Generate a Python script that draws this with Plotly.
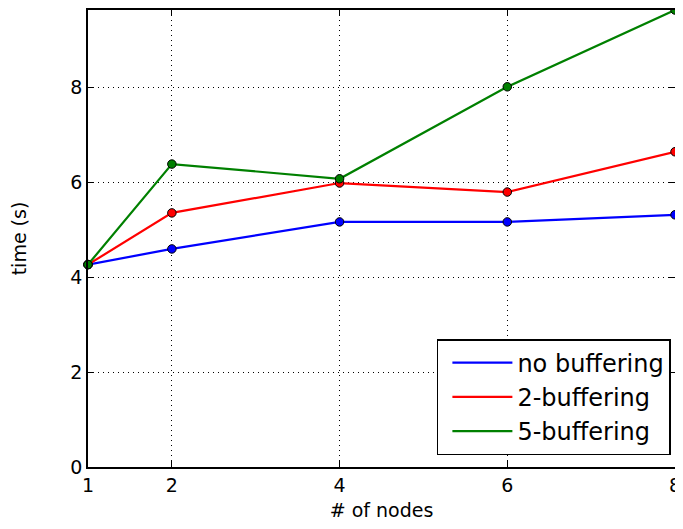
import plotly.graph_objects as go

nodes = [1, 2, 4, 6, 8]
no_buf = [4.27, 4.60, 5.17, 5.17, 5.32]
buf2 = [4.27, 5.36, 5.99, 5.80, 6.65]
buf5 = [4.27, 6.39, 6.08, 8.02, 9.64]
names = ["no buffering", "2-buffering", "5-buffering"]
colors = ["#0000ff", "#ff0000", "#008000"]
series = [no_buf, buf2, buf5]
xticks = [1, 2, 4, 6, 8]
yticks = [0, 2, 4, 6, 8]

fig = go.Figure()
for vals, c in zip(series, colors):
    fig.add_trace(go.Scatter(x=nodes, y=vals, mode="lines+markers",
                             line=dict(color=c, width=2.2),
                             marker=dict(size=8.5, color=c, line=dict(color="black", width=1)),
                             showlegend=False, cliponaxis=False))
for n, c in zip(names, colors):
    fig.add_trace(go.Scatter(x=[None], y=[None], mode="lines", name=n,
                             line=dict(color=c, width=2.2)))

axis_common = dict(showline=True, linecolor="black", linewidth=1.5, mirror="allticks",
                   ticks="inside", ticklen=6, tickcolor="black", automargin=False,
                   showgrid=True, gridcolor="black", griddash="1px,4px", gridwidth=1,
                   zeroline=False, tickfont=dict(size=19, color="black"),
                   ticklabeloverflow="allow")
fig.update_xaxes(range=[1, 8], tickvals=xticks, title=dict(text="# of nodes", font=dict(size=19, color="black"), standoff=14), **axis_common)
fig.update_yaxes(range=[0, 9.64], tickvals=yticks, title=dict(text="time (s)", font=dict(size=19, color="black"), standoff=40), **axis_common)

# the page body adds an 8px offset; size and margins compensate for it
fig.update_layout(width=667, height=513, margin=dict(l=80, r=0, t=2, b=54),
                  plot_bgcolor="white", paper_bgcolor="white",
                  font=dict(family="DejaVu Sans", color="black"),
                  legend=dict(x=0.993, y=0.026, xanchor="right", yanchor="bottom",
                              bgcolor="white", bordercolor="black", borderwidth=1.5,
                              font=dict(size=24, color="black"), itemwidth=60,
                              indentation=9, tracegroupgap=0))
fig.write_html("out.html")
